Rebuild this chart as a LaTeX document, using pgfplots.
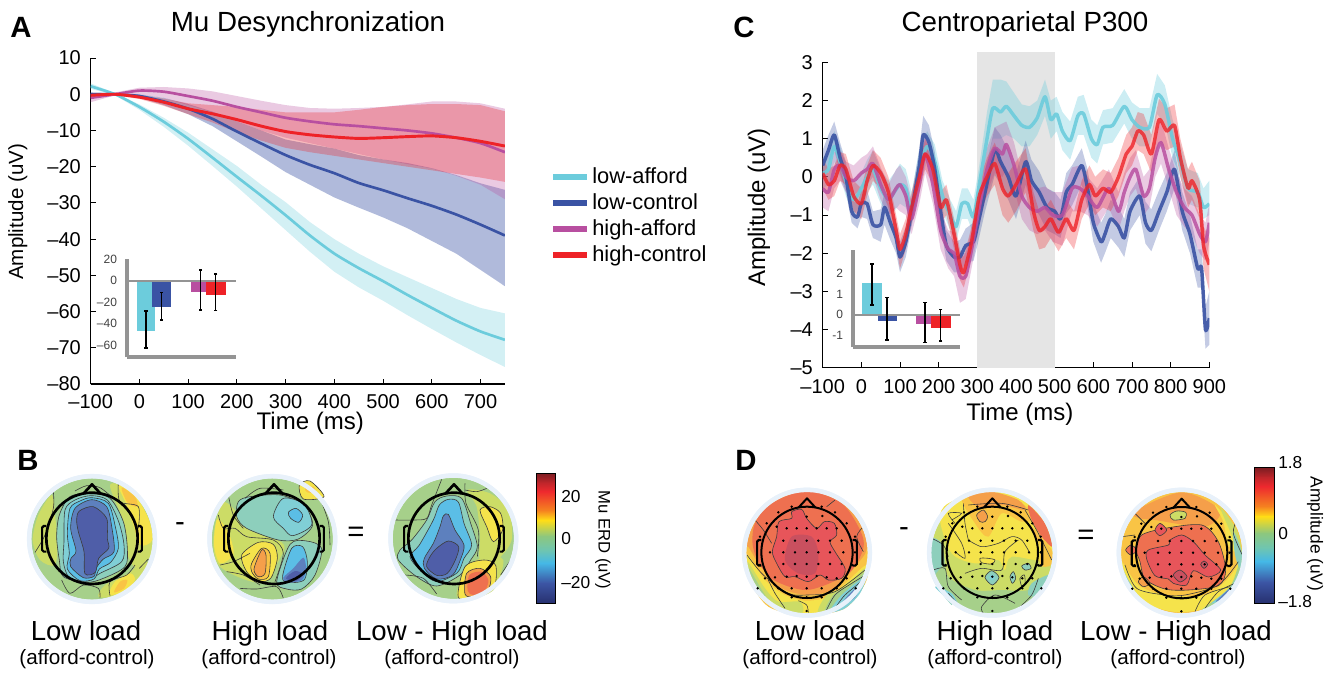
\documentclass[border=0pt]{standalone}
\usepackage{fontspec}
\setmainfont{Liberation Sans}
\usepackage{pgfplots}
\usepackage{pgfplotstable}
\pgfplotsset{compat=1.18}
\usepgfplotslibrary{fillbetween}
\definecolor{lcy}{HTML}{6CCCDC}
\definecolor{lbl}{HTML}{3A53A4}
\definecolor{lma}{HTML}{B84FA0}
\definecolor{lre}{HTML}{EE2227}
\definecolor{halo}{HTML}{E8F1FA}
\definecolor{cline}{HTML}{3C3C3C}
\definecolor{cn5}{HTML}{4F5EA8}
\definecolor{cn4}{HTML}{5D80BE}
\definecolor{cn3}{HTML}{5BBEE6}
\definecolor{cn2}{HTML}{80CFD6}
\definecolor{cn1}{HTML}{8DCFBC}
\definecolor{cz}{HTML}{A6D08A}
\definecolor{cp1}{HTML}{CCDC66}
\definecolor{cp2}{HTML}{F5E34B}
\definecolor{cp3}{HTML}{F9C445}
\definecolor{cp4}{HTML}{F59F4A}
\definecolor{cp5}{HTML}{EE7050}
\definecolor{cp6}{HTML}{E7555A}
\definecolor{cp7}{HTML}{C9505F}
\newcommand\fs[1]{\fontsize{#1}{#1}\selectfont}
% ---- panel A data
\pgfplotstableread{
t m lo hi
-100 2.2 1.5 3.0
-50 0 -.3 .3
0 -3.5 -4.3 -2.8
50 -7.6 -9 -6.5
100 -12.3 -14.2 -10.6
150 -17.5 -19.8 -15.2
200 -22.8 -25.5 -19.8
250 -28 -31.5 -25
300 -33.4 -37.5 -29.8
350 -39 -43.5 -35.3
400 -44 -49 -40
450 -48 -53.3 -44
500 -51.6 -57 -47.5
550 -55.4 -61 -50.5
600 -59 -64.8 -53.5
650 -62.5 -68.5 -56.5
700 -65.5 -72 -59
750 -67.8 -75.3 -60.5
}\Acy
\pgfplotstableread{
t m lo hi
-100 0 -.5 .5
-50 0 -.3 .3
0 -.5 -1 0
50 -2 -3 -1
100 -4 -5.5 -2.7
150 -6.8 -8.8 -4.8
200 -10.3 -13 -7.5
250 -13.6 -17.2 -10
300 -16.8 -21.5 -12.5
350 -19.5 -25 -13.8
400 -21.8 -28.5 -15
450 -24.5 -31.3 -16.8
500 -26.5 -34 -18
550 -28.7 -37 -19
600 -30.8 -40.5 -20.4
650 -33.2 -44 -22.3
700 -36 -48.5 -24.6
750 -39 -53 -26.4
}\Abl
\pgfplotstableread{
t m lo hi
-100 -1 -2.2 0
-50 0 -.3 .5
0 1 0 1.8
50 .7 -1 2
100 -.5 -3 1.6
150 -1.8 -5 .8
200 -3.5 -7.5 -.5
250 -5 -10 -1.8
300 -6.5 -12 -3
350 -7.5 -13.5 -3.8
400 -8.3 -15 -4
450 -8.8 -16.5 -3.8
500 -9.4 -18 -3.5
550 -10 -19.3 -2.8
600 -10.8 -20.5 -2
650 -12 -22.5 -2
700 -13.5 -25 -2.5
750 -16 -29 -4
}\Ama
\pgfplotstableread{
t m lo hi
-100 -.3 -1 .3
-50 0 -.3 .3
0 -.8 -1.3 -.3
50 -2.2 -3.2 -1.2
100 -4 -5.5 -2.5
150 -5.4 -7.8 -3
200 -7 -10.5 -3.5
250 -8.8 -12.8 -4.3
300 -10.3 -14.8 -5
350 -11.2 -16 -5
400 -11.8 -17 -5
450 -12.2 -18 -4.3
500 -12 -19 -3.5
550 -11.7 -20 -3
600 -11.5 -21 -2.7
650 -12 -22 -2.7
700 -13 -23 -3
750 -14.3 -24.2 -4.7
}\Are
% ---- panel C data
\pgfplotstableread{
t m lo hi
-100 .1 -.3 .5
-85 .2 -.2 .6
-70 .8 .4 1.2
-55 .4 0 .8
-40 -.1 -.5 .3
-20 -.6 -1 -.2
0 -.3 -.7 .1
15 0 -.4 .45
30 .2 -.2 .7
50 -.3 -.7 .2
70 -.6 -1 -.1
85 -.4 -.9 .1
100 -.2 -.7 .35
115 -.3 -.8 .2
130 -.9 -1.3 -.4
150 .2 -.2 .7
170 .8 .4 1.2
190 .4 0 .85
210 -.5 -.9 -.1
230 -1 -1.4 -.6
245 -1.3 -1.7 -.9
260 -.7 -1.1 -.3
275 -.7 -1.1 -.3
290 -1.05 -1.5 -.6
305 -.2 -.7 .3
325 1.0 .4 1.7
340 1.8 1 2.55
360 1.7 1 2.55
375 1.85 1.1 2.5
395 1.6 1 2.2
415 1.35 .8 1.9
435 1.3 .8 1.85
455 1.55 1.1 2
475 2.1 1.6 2.55
490 1.5 1 2
505 1.65 1.2 2.1
520 1.2 .7 1.7
540 .95 .45 1.45
560 1.6 1.1 2.1
575 1.65 1.1 2.15
595 1 .5 1.5
610 .85 .35 1.35
625 1.3 .85 1.75
650 1.35 .9 1.8
680 1.85 1.4 2.3
700 1.5 1 1.95
720 1.3 .8 1.8
745 1.3 .8 1.8
765 2.15 1.65 2.7
785 1.9 1.4 2.4
805 1 .5 1.5
825 .4 0 .85
845 -.3 -.7 .2
870 -.4 -.8 .1
885 -.8 -1.1 -.3
900 -.7 -1 -.1
}\Ccy
\pgfplotstableread{
t m lo hi
-100 .3 -.1 .7
-85 .7 .3 1.1
-70 1.1 .7 1.45
-55 .5 .1 .9
-40 0 -.4 .4
-25 -.9 -1.2 -.6
-10 -1.05 -1.35 -.7
0 -.7 -1.05 -.35
15 -.7 -1.1 -.35
30 -1.25 -1.6 -.9
50 -1.25 -1.7 -.85
60 -.8 -1.25 -.4
75 -1.2 -1.65 -.8
90 -1.6 -2 -1.2
100 -2.1 -2.5 -1.7
115 -1.7 -2.1 -1.3
130 -.9 -1.3 -.5
150 .3 -.1 .75
160 1.1 .6 1.6
175 .9 .45 1.35
190 .2 -.25 .65
205 -.9 -1.3 -.5
220 -1.8 -2.2 -1.4
240 -2.1 -2.5 -1.7
255 -2.1 -2.5 -1.65
270 -1.8 -2.25 -1.35
290 -1.7 -2.2 -1.2
300 -1.3 -1.8 -.8
320 -.4 -.9 .15
345 .7 .05 1.3
360 .4 -.2 1.1
380 0 -.6 .7
400 -.5 -1.1 .1
425 .4 -.2 .95
440 -.1 -.7 .45
460 -.4 -1 .15
480 -.8 -1.4 -.3
500 -.9 -1.5 -.4
515 -1.1 -1.6 -.6
530 -.4 -.95 .1
545 -.2 -.75 .3
570 .3 -.2 .75
585 -.3 -.8 .2
600 -1.2 -1.7 -.7
620 -1.7 -2.25 -1.2
630 -1.5 -2 -1
645 -1.1 -1.6 -.6
665 -1.3 -1.85 -.8
680 -1.6 -2.1 -1.1
695 -.9 -1.4 -.4
720 -.5 -1 0
735 -1.2 -1.75 -.65
750 -1.4 -1.95 -.85
770 -.9 -1.4 -.35
790 -.4 -.9 .1
810 .2 -.3 .7
830 -.9 -1.4 -.4
850 -1.5 -2 -1
870 -2.4 -2.9 -1.9
880 -2.4 -2.9 -1.9
890 -4 -4.5 -3.4
900 -3.7 -4.4 -3
}\Cbl
\pgfplotstableread{
t m lo hi
-100 -.3 -.8 .2
-85 -.4 -.9 .1
-70 .2 -.3 .65
-55 .3 -.1 .7
-40 0 -.4 .4
-20 -.1 -.5 .3
0 .1 -.3 .5
15 .2 -.2 .6
30 .35 0 .8
50 -.2 -.6 .25
70 -.6 -1 -.2
90 -.3 -.8 .2
100 -.2 -.9 .3
115 -.5 -1 0
130 -1.1 -1.5 -.6
150 -.2 -.7 .3
165 .6 .1 1.1
185 -.2 -.7 .3
205 -1.4 -1.9 -.9
225 -1.9 -2.4 -1.4
240 -2 -2.6 -1.45
255 -2.6 -3.3 -2
270 -2.6 -3.2 -2
285 -1.9 -2.4 -1.4
305 -.8 -1.3 -.3
325 .2 -.4 .75
345 .75 .1 1.3
365 .6 0 1.4
375 .85 .2 1.45
395 .3 -.3 .9
415 -.5 -1.1 .05
435 -.8 -1.4 -.2
455 -.9 -1.5 -.3
475 -.8 -1.4 -.25
495 -1 -1.7 -.4
520 -1 -1.8 -.4
545 -.3 -.9 .25
565 -.3 -.9 .3
585 -.5 -1 0
610 -.8 -1.3 -.3
640 -.3 -.8 .2
665 -.9 -1.4 -.4
680 -.4 -.9 .1
695 0 -.5 .5
710 .2 -.3 .7
730 -.5 -1 0
745 -.3 -.8 .2
760 .5 0 1
775 .9 .35 1.5
795 .2 -.3 .75
815 -.4 -1 .1
835 -.8 -1.3 -.3
855 -1 -1.5 -.5
875 -1.5 -2 -1
890 -1.7 -2.2 -1.2
900 -1.2 -1.7 -.7
}\Cma
\pgfplotstableread{
t m lo hi
-100 .1 -.3 .5
-85 -.2 -.6 .2
-70 -.1 -.5 .3
-55 .3 -.1 .65
-40 .2 -.2 .6
-20 -.5 -.9 -.1
0 -.7 -1.1 -.3
15 -.1 -.5 .3
30 .3 -.1 .7
50 .1 -.3 .5
70 -.4 -.8 0
90 -1.4 -1.8 -1
100 -1.9 -2.4 -1.5
115 -1.5 -1.9 -1.1
130 -.8 -1.2 -.4
150 0 -.4 .4
165 .6 .2 1
185 .2 -.2 .6
205 -.8 -1.2 -.4
220 -.6 -1 -.2
240 -1.5 -1.9 -1.1
255 -2.3 -2.7 -1.9
265 -2.5 -2.9 -2.1
285 -1.7 -2.1 -1.3
305 -.5 -1 -.1
325 0 -.5 .5
345 .35 -.2 .9
365 -.3 -1 .3
380 -.5 -1.2 .1
400 -.2 -.9 .4
425 .2 -.4 .75
445 -.9 -1.4 -.4
460 -1.4 -1.9 -.9
475 -1.3 -1.85 -.8
490 -1.1 -1.6 -.6
510 -1.45 -1.95 -1
530 -1.1 -1.6 -.6
550 -1.4 -1.9 -.9
570 -.6 -1.1 -.1
590 -.2 -.7 .3
605 -.5 -1 0
625 -.3 -.8 .2
645 -.4 -.9 .1
665 0 -.5 .5
685 .6 .1 1.1
700 .8 .3 1.3
715 1.2 .7 1.7
730 1.1 .6 1.65
750 .6 .1 1.1
770 1.5 .9 2.05
790 1.2 .7 1.8
810 1.35 .8 1.9
825 .5 0 1
845 -.3 -.8 .2
855 -.1 -.6 .4
875 -.6 -1.1 -.1
885 -1.8 -2.4 -1.3
900 -2.3 -3 -1.6
}\Cre
% ---- electrode positions
\pgfplotstableread{
x y
170 80
260 80
130 97
300 97
215 110
262 108
95 130
125 140
335 130
155 145
185 145
215 145
245 145
275 145
305 145
75 170
360 170
145 182
180 182
215 182
250 182
285 182
320 182
105 217
145 217
180 217
215 217
250 217
285 217
325 217
360 217
145 252
180 252
215 252
250 252
285 252
320 252
75 255
352 255
120 292
155 290
185 288
215 290
245 288
275 292
305 295
90 295
335 295
130 325
170 325
215 325
260 325
305 325
68 325
362 325
170 352
215 352
260 352
215 393
}\elec
% ---- macros
\newcommand\Bl[2]{\addplot[fill=#1,draw=none,smooth cycle,forget plot] coordinates {#2};}
\newcommand\BC[2]{\addplot[fill=#1,draw=cline,line width=.45pt,smooth cycle,forget plot] coordinates {#2};}
\newcommand\Cn[1]{\addplot[draw=cline,line width=.45pt,smooth,forget plot] coordinates {#1};}
\newcommand\hdisc[3]{\fill[halo] (axis cs:#1,#2) circle (48.75pt);\fill[#3] (axis cs:#1,#2) circle (45.5pt);}
\newcommand\hring[2]{\draw[halo,line width=3.4pt] (axis cs:#1,#2) circle (47.1pt);}
\newcommand\hhead[3]{%
 \draw[black,line width=#3] (axis cs:#1,#2) circle (34.25pt);
 \draw[black,line width=#3,line join=round] (axis cs:#1,#2) ++(-6.25pt,33.7pt) -- ++(6.25pt,6.8pt) -- ++(6.25pt,-6.8pt);
 \draw[black,line width=1.6pt,rounded corners=1.2pt] (axis cs:#1,#2) ++(-34.2pt,9.25pt) -- ++(-3.2pt,0) -- ++(0,-19.25pt) -- ++(3.2pt,0);
 \draw[black,line width=1.6pt,rounded corners=1.2pt] (axis cs:#1,#2) ++(34.2pt,9.25pt) -- ++(3.2pt,0) -- ++(0,-19.25pt) -- ++(-3.2pt,0);
}
\newcommand\cbar[4]{%
 \foreach \fa/\fb/\ca/\cb in {1/.85/7D1D22/C2262B,.85/.72/C2262B/EE2A2E,.72/.43/EE2A2E/F58220,.43/.28/F58220/FFDD17,.28/.03/FFDD17/8CC77F,.03/-.18/8CC77F/6FC5B0,-.18/-.38/6FC5B0/45B8E6,-.38/-.69/45B8E6/3C55A4,-.69/-1/3C55A4/27306F}{%
  \definecolor{ctop}{HTML}{\ca}\definecolor{cbot}{HTML}{\cb}
  \shade[top color=ctop,bottom color=cbot] (#1,{#3-#4*\fa}) rectangle (#2,{#3-#4*\fb});
 }
 \draw[black,line width=.9pt] (#1,{#3-#4}) rectangle (#2,{#3+#4});
}
\pgfplotsset{
 mainax/.style={scale only axis,anchor=south west,axis lines=left,axis line style={-,line width=.8pt,black},
  tick style={black,line width=.7pt},tick align=inside,major tick length=4pt,
  tick label style={font=\fs{15},inner sep=1pt},yticklabel style={xshift=-6.2pt}},
 zoomax/.style={scale only axis,anchor=north west,hide axis,clip=false,y dir=reverse,ymin=0,xmin=0},
 inset/.style={scale only axis,anchor=south west,axis lines=left,axis line style={-,line width=2.4pt,color=black!42},
  xtick=\empty,major tick length=0pt,clip=false,tick label style={font=\fs{9},text=black!75},yticklabel style={xshift=-4pt}},
 meanl/.style={line width=#1,smooth,tension=.4,forget plot,line join=round,no markers},
 band/.style={draw=none,fill=#1,fill opacity=.3,forget plot},
 bare/.style={draw=none,forget plot,no markers},
 errb/.style={black,line width=1pt,mark=-,mark size=1.2pt,sharp plot,forget plot},
}
\begin{document}
\begin{tikzpicture}
% ---------- Panel C grey window comes first, so that it lies under every band
\begin{axis}[scale only axis,anchor=south west,hide axis,clip=false,at={(617pt,-275.8pt)},width=290pt,height=229pt,
 xmin=-100,xmax=900,ymin=-5,ymax=3]
 \addplot[bare,name path=g1] coordinates {(300,-5)(500,-5)};
 \addplot[bare,name path=g2] coordinates {(300,3.27)(500,3.27)};
 \addplot[fill=black!10,draw=none,forget plot] fill between[of=g1 and g2];
\end{axis}
% ---------- Panel A
\begin{axis}[mainax,at={(68pt,-288pt)},width=310.7pt,height=244.5pt,
 xmin=-100,xmax=750,ymin=-80,ymax=10,xticklabel style={yshift=-7pt},
 xtick={-100,0,100,200,300,400,500,600,700},xticklabels={–100,0,100,200,300,400,500,600,700},
 ytick={-80,-70,-60,-50,-40,-30,-20,-10,0,10},yticklabels={–80,–70,–60,–50,–40,–30,–20,–10,0,10},
 xlabel={Time (ms)},ylabel={Amplitude (uV)},
 xlabel style={font=\fs{18},at={(axis description cs:.53,-.072)},anchor=north},
 ylabel style={font=\fs{15.4},at={(axis description cs:-.176,.528)},anchor=center}]
 \addplot[bare,name path=a1] table[x=t,y=lo]{\Acy};
 \addplot[bare,name path=a2] table[x=t,y=hi]{\Acy};
 \addplot[band=lcy] fill between[of=a1 and a2];
 \addplot[bare,name path=b1] table[x=t,y=lo]{\Abl};
 \addplot[bare,name path=b2] table[x=t,y=hi]{\Abl};
 \addplot[band=lbl,fill opacity=.4] fill between[of=b1 and b2];
 \addplot[bare,name path=c1] table[x=t,y=lo]{\Ama};
 \addplot[bare,name path=c2] table[x=t,y=hi]{\Ama};
 \addplot[band=lma] fill between[of=c1 and c2];
 \addplot[bare,name path=d1] table[x=t,y=lo]{\Are};
 \addplot[bare,name path=d2] table[x=t,y=hi]{\Are};
 \addplot[band=lre] fill between[of=d1 and d2];
 \addplot[meanl=2pt,color=lcy] table[x=t,y=m]{\Acy};
 \addplot[meanl=2pt,color=lbl] table[x=t,y=m]{\Abl};
 \addplot[meanl=2pt,color=lma] table[x=t,y=m]{\Ama};
 \addplot[meanl=2.2pt,color=lre] table[x=t,y=m]{\Are};
\end{axis}
% inset A
\begin{axis}[inset,at={(95.25pt,-267.75pt)},width=81.75pt,height=73.5pt,xmin=127,xmax=236,ymin=-71.3,ymax=20.3,
 ytick={-60,-40,-20,0,20},yticklabels={–60,–40,–20,0,20}]
 \addplot[fill=lcy,draw=none,forget plot] coordinates {(137.3,0)(137.3,-47)(155.3,-47)(155.3,0)} -- cycle;
 \addplot[fill=lbl,draw=none,forget plot] coordinates {(152.3,0)(152.3,-25)(171,-25)(171,0)} -- cycle;
 \addplot[fill=lma,draw=none,forget plot] coordinates {(191,0)(191,-10.3)(205.7,-10.3)(205.7,0)} -- cycle;
 \addplot[fill=lre,draw=none,forget plot] coordinates {(205.7,0)(205.7,-13.5)(225.7,-13.5)(225.7,0)} -- cycle;
 \addplot[black!42,line width=1.4pt,no markers,sharp plot,forget plot] coordinates {(129,0)(236,0)};
 \addplot[errb] coordinates {(146,-28.3)(146,-63)};
 \addplot[errb] coordinates {(161.3,-10.9)(161.3,-36.7)};
 \addplot[errb] coordinates {(200.3,10)(200.3,-27.4)};
 \addplot[errb] coordinates {(215.7,6.3)(215.7,-28)};
\end{axis}
% ---------- Panel C
\begin{axis}[mainax,at={(617pt,-275.8pt)},width=290pt,height=229pt,
 xmin=-100,xmax=900,ymin=-5,ymax=3,xticklabel style={yshift=-7.6pt},
 xtick={-100,0,100,200,300,400,500,600,700,800,900},xticklabels={–100,0,100,200,300,400,500,600,700,800,900},
 ytick={-5,-4,-3,-2,-1,0,1,2,3},yticklabels={–5,–4,–3,–2,–1,0,1,2,3},
 xlabel={Time (ms)},ylabel={Amplitude (uV)},
 xlabel style={font=\fs{18},at={(axis description cs:.51,-.1)},anchor=north},
 ylabel style={font=\fs{18},at={(axis description cs:-.165,.525)},anchor=center}]
 \addplot[bare,name path=a1] table[x=t,y=lo]{\Ccy};
 \addplot[bare,name path=a2] table[x=t,y=hi]{\Ccy};
 \addplot[band=lcy,fill opacity=.35] fill between[of=a1 and a2];
 \addplot[bare,name path=b1] table[x=t,y=lo]{\Cbl};
 \addplot[bare,name path=b2] table[x=t,y=hi]{\Cbl};
 \addplot[band=lbl] fill between[of=b1 and b2];
 \addplot[bare,name path=c1] table[x=t,y=lo]{\Cma};
 \addplot[bare,name path=c2] table[x=t,y=hi]{\Cma};
 \addplot[band=lma] fill between[of=c1 and c2];
 \addplot[bare,name path=d1] table[x=t,y=lo]{\Cre};
 \addplot[bare,name path=d2] table[x=t,y=hi]{\Cre};
 \addplot[band=lre] fill between[of=d1 and d2];
 \addplot[meanl=2.6pt,color=lcy,opacity=.9] table[x=t,y=m]{\Ccy};
 \addplot[meanl=2.6pt,color=lbl,opacity=.9] table[x=t,y=m]{\Cbl};
 \addplot[meanl=2.6pt,color=lma,opacity=.85] table[x=t,y=m]{\Cma};
 \addplot[meanl=2.6pt,color=lre,opacity=.8] table[x=t,y=m]{\Cre};
\end{axis}
% inset C
\begin{axis}[inset,at={(639.75pt,-260.25pt)},width=80.25pt,height=72.75pt,xmin=853,xmax=960,ymin=-1.56,ymax=3.13,
 ytick={-1,0,1,2},yticklabels={-1,0,1,2}]
 \addplot[fill=lcy,draw=none,forget plot] coordinates {(862.3,0)(862.3,1.55)(881.7,1.55)(881.7,0)} -- cycle;
 \addplot[fill=lbl,draw=none,forget plot] coordinates {(877.7,0)(877.7,-.29)(896.7,-.29)(896.7,0)} -- cycle;
 \addplot[fill=lma,draw=none,forget plot] coordinates {(916,0)(916,-.45)(931.7,-.45)(931.7,0)} -- cycle;
 \addplot[fill=lre,draw=none,forget plot] coordinates {(930.7,0)(930.7,-.64)(950.7,-.64)(950.7,0)} -- cycle;
 \addplot[black!42,line width=1.4pt,no markers,sharp plot,forget plot] coordinates {(855,0)(960,0)};
 \addplot[errb] coordinates {(872,2.45)(872,.47)};
 \addplot[errb] coordinates {(887,.84)(887,-1.22)};
 \addplot[errb] coordinates {(925,.6)(925,-1.35)};
 \addplot[errb] coordinates {(940.7,.26)(940.7,-1.27)};
\end{axis}
% ---------- Topomaps B1, B2
\begin{axis}[zoomax,at={(15pt,-348.75pt)},width=240pt,height=108.75pt,xmax=960,ymax=435]
 \hdisc{216}{222}{cz}
 \Bl{cp1}{(95,90)(55,150)(38,225)(60,285)(105,300)(112,230)(105,150)}
 \Bl{cp1}{(270,60)(330,75)(390,170)(398,260)(350,310)(320,260)(310,170)}
 \Bl{cp2}{(295,60)(345,90)(385,160)(397,225)(362,240)(340,180)(320,120)}
 \Bl{cp3}{(305,68)(345,95)(352,125)(322,112)}
 \Bl{cp1}{(235,395)(255,360)(320,330)(365,290)(385,300)(340,370)(280,395)}
 \Bl{cp2}{(268,390)(285,350)(330,325)(345,345)(315,378)}
 \Bl{cp3}{(282,382)(300,350)(322,345)(312,370)}
 \BC{cn1}{(118,150)(150,95)(210,86)(270,100)(310,170)(322,250)(315,305)(250,340)(200,352)(130,335)(118,285)(110,215)}
 \BC{cn2}{(135,135)(165,105)(212,92)(262,105)(296,170)(312,240)(305,290)(240,325)(200,348)(148,338)(130,290)(132,230)}
 \BC{cn3}{(150,130)(180,108)(215,98)(265,115)(287,190)(295,250)(272,292)(238,312)(222,342)(180,347)(142,312)(148,265)(142,205)}
 \BC{cn4}{(165,130)(215,104)(260,125)(276,190)(282,260)(250,282)(228,310)(222,334)(190,338)(152,305)(153,280)(168,258)(152,190)}
 \BC{cn5}{(178,138)(220,125)(260,160)(262,220)(266,250)(236,280)(226,322)(195,326)(192,260)(175,200)(170,165)}
 \Cn{(100,80)(100,130)(75,210)(45,262)}
 \Cn{(165,78)(200,62)(240,68)(280,100)}
 \Cn{(295,55)(300,110)(355,125)(355,190)}
 \Cn{(125,345)(150,385)(190,360)(235,370)(240,398)}
 \Cn{(358,310)(385,282)}
 \Cn{(270,392)(270,350)(320,330)(345,300)}
 \hring{216}{222}
 \hhead{216}{220}{2pt}
 \hdisc{757}{222}{cz}
 \Bl{cp1}{(605,115)(580,220)(600,305)(720,352)(785,270)(785,232)(680,190)(640,130)}
 \BC{cn1}{(655,110)(690,95)(780,90)(850,120)(878,180)(835,222)(775,225)(680,190)(650,155)}
 \BC{cn2}{(760,155)(790,100)(852,118)(875,180)(818,212)(790,190)}
 \BC{cn3}{(805,142)(828,130)(848,150)(836,172)(812,160)}
 \BC{cn1}{(770,350)(810,238)(860,228)(905,250)(885,330)(845,372)(800,372)}
 \BC{cn3}{(788,332)(815,250)(848,245)(862,290)(852,345)(800,352)}
 \Bl{cn4}{(790,338)(820,310)(850,278)(858,312)(845,346)(800,352)}
 \Bl{cn5}{(798,340)(825,318)(848,328)(828,348)}
 \Bl{cp2}{(590,165)(582,240)(600,295)(640,270)(632,220)(612,180)}
 \BC{cp2}{(665,270)(715,232)(760,238)(772,280)(752,340)(715,350)(680,320)}
 \BC{cp3}{(695,295)(725,250)(750,265)(745,335)(715,342)(695,320)}
 \BC{cp4}{(702,312)(725,255)(738,270)(735,325)(715,335)}
 \BC{cp2}{(838,60)(870,48)(912,95)(850,102)}
 \Bl{cp3}{(855,70)(880,65)(885,82)(862,82)}
 \Cn{(595,150)(610,190)(645,190)(680,215)(760,225)(790,265)(765,350)}
 \Cn{(625,90)(640,150)(670,190)}
 \Cn{(600,300)(640,290)(690,265)}
 \Cn{(620,320)(670,330)(720,360)}
 \Cn{(660,370)(710,372)(770,365)(790,400)}
 \Cn{(675,100)(720,70)(790,75)}
 \Cn{(900,100)(925,170)(930,240)}
 \hring{757}{222}
 \hhead{762}{220}{2pt}
\end{axis}
% ---------- Topomap B3
\begin{axis}[zoomax,at={(285pt,-345pt)},width=180pt,height=112.5pt,xmax=720,ymax=450]
 \hdisc{220}{235}{cz}
 \Bl{cp1}{(262,90)(330,100)(385,150)(395,240)(350,300)(300,300)(300,230)(290,140)}
 \Bl{cp1}{(230,408)(262,320)(320,290)(370,300)(345,385)(290,412)}
 \BC{cn1}{(200,108)(245,115)(272,190)(292,260)(272,300)(240,345)(170,378)(110,350)(55,300)(60,270)(95,240)(140,180)(165,125)}
 \BC{cn3}{(205,118)(235,126)(252,190)(275,255)(252,295)(232,338)(170,365)(122,332)(90,290)(118,255)(160,180)(178,135)}
 \BC{cn4}{(190,168)(205,163)(225,210)(252,255)(242,297)(218,345)(170,357)(133,325)(133,295)(160,250)(180,200)}
 \BC{cn5}{(170,265)(205,243)(236,260)(226,300)(202,340)(170,346)(140,320)(150,290)}
 \BC{cp2}{(300,150)(330,140)(362,160)(368,210)(340,245)(320,200)}
 \BC{cp2}{(235,412)(255,320)(312,300)(347,316)(342,382)(290,412)}
 \BC{cp4}{(255,402)(260,340)(300,325)(332,350)(322,395)(280,410)}
 \Bl{cp5}{(263,392)(268,345)(305,335)(325,360)(315,390)(280,405)}
 \Cn{(45,180)(100,180)(140,175)(155,135)(185,58)}
 \Cn{(255,70)(258,130)(295,210)(292,290)}
 \Cn{(255,90)(290,95)(320,85)}
 \Cn{(75,345)(130,355)(170,402)}
 \Cn{(362,345)(392,300)}
 \hring{220}{235}
 \hhead{222}{235}{2pt}
\end{axis}
% ---------- Topomaps D1, D2
\begin{axis}[zoomax,at={(551.25pt,-360pt)},width=240pt,height=105pt,xmax=960,ymax=420]
 \hdisc{216}{218}{cp4}
 \Bl{cp5}{(60,130)(110,70)(215,32)(320,70)(375,150)(385,205)(340,280)(215,330)(100,290)(55,205)}
 \Bl{cp3}{(36,200)(70,250)(130,320)(215,345)(300,325)(385,230)(398,200)(395,300)(330,385)(215,405)(100,380)(40,290)}
 \Bl{cp2}{(38,225)(90,300)(150,345)(215,362)(290,345)(385,260)(395,270)(340,370)(215,400)(110,370)(50,300)}
 \Bl{cp1}{(38,245)(90,325)(130,365)(195,365)(200,400)(120,375)(55,305)}
 \Bl{cp1}{(250,400)(275,345)(330,320)(390,265)(385,310)(340,370)}
 \Bl{cz}{(40,262)(90,345)(125,385)(70,330)}
 \Bl{cz}{(270,398)(295,345)(350,310)(392,275)(385,320)(335,378)}
 \Bl{cn2}{(285,395)(320,345)(390,290)(375,340)(330,385)}
 \Bl{cn4}{(315,380)(340,345)(378,312)(360,352)}
 \BC{cp6}{(170,95)(200,88)(215,115)(245,145)(268,125)(298,130)(305,165)(285,185)(300,215)(330,265)(320,295)(280,300)(255,285)(220,305)(180,290)(150,290)(125,250)(112,215)(125,170)(132,125)(170,115)}
 \Bl{cp7}{(170,170)(230,170)(250,220)(240,280)(190,280)(150,240)}
 \Cn{(60,120)(85,150)(110,190)}
 \Cn{(36,225)(85,285)(160,340)(215,345)(300,335)(390,270)}
 \Cn{(100,300)(120,340)(150,385)}
 \Cn{(190,362)(215,375)(220,398)}
 \Cn{(270,400)(300,345)(350,310)(392,285)}
 \Cn{(300,385)(330,345)(385,300)}
 \Cn{(275,80)(300,60)}
 \Cn{(385,140)(365,170)(385,215)}
 \addplot[only marks,mark=*,mark size=.7pt,black,forget plot] table[x=x,y=y]{\elec};
 \hring{216}{218}
 \hhead{216}{217}{1.5pt}
 \hdisc{771}{218}{cp1}
 \Bl{cp2}{(640,70)(770,30)(900,80)(950,200)(940,245)(830,230)(810,270)(790,240)(720,250)(650,220)(615,120)}
 \Bl{cp3}{(680,50)(770,35)(860,70)(905,115)(860,125)(800,100)(760,170)(720,130)}
 \Bl{cp4}{(700,45)(770,35)(850,60)(870,90)(800,75)(730,80)}
 \Bl{cp3}{(880,130)(950,210)(948,255)(915,255)(915,195)}
 \Bl{cp5}{(880,75)(930,130)(952,200)(920,170)(890,120)}
 \BC{cp4}{(725,105)(745,90)(758,110)(750,125)(735,125)}
 \Bl{cz}{(585,200)(625,220)(640,290)(720,330)(800,330)(880,330)(950,285)(920,340)(850,390)(770,405)(680,385)(620,330)(585,250)}
 \Bl{cn1}{(585,175)(620,190)(625,250)(600,290)(640,340)(650,375)(600,310)(580,240)}
 \Bl{cn2}{(600,320)(650,340)(670,380)(630,350)}
 \Bl{cn1}{(890,310)(945,285)(915,345)(880,345)}
 \BC{cp2}{(735,235)(760,235)(780,240)(770,252)(740,248)}
 \BC{cn1}{(750,292)(770,272)(792,292)(772,315)}
 \Bl{cn2}{(762,292)(772,283)(780,292)(772,302)}
 \BC{cn1}{(825,290)(835,275)(842,295)(832,310)}
 \BC{cp1}{(855,295)(868,285)(870,310)(860,318)}
 \BC{cn1}{(860,258)(880,250)(888,265)(870,270)}
 \Cn{(650,120)(680,100)(640,100)(660,130)}
 \Cn{(685,70)(690,130)(700,180)}
 \Cn{(700,75)(800,70)(880,90)}
 \Cn{(700,180)(740,200)(790,190)(830,170)(860,180)(885,220)}
 \Cn{(660,215)(690,235)(680,190)(640,130)}
 \Cn{(590,175)(625,195)(640,230)}
 \Cn{(595,270)(630,265)(640,320)(680,360)}
 \Cn{(640,340)(680,385)}
 \Cn{(690,280)(740,265)(800,270)(810,215)(850,180)}
 \Cn{(840,370)(780,345)(740,380)(745,400)}
 \Cn{(910,295)(890,345)(850,385)}
 \Cn{(870,90)(910,160)(950,240)}
 \addplot[only marks,mark=*,mark size=.7pt,black,forget plot] table[x expr=\thisrow{x}+557,y=y]{\elec};
 \hring{771}{218}
 \hhead{772}{217}{1.5pt}
\end{axis}
% ---------- Topomap D3
\begin{axis}[zoomax,at={(828.75pt,-341.25pt)},width=173.25pt,height=123.75pt,xmax=693,ymax=495]
 \hdisc{230}{293}{cp3}
 \Bl{cp4}{(85,170)(230,112)(345,165)(300,215)(150,195)(105,190)}
 \Bl{cp2}{(330,150)(390,220)(410,300)(370,270)(355,200)}
 \Bl{cp1}{(345,155)(395,225)(410,290)(385,250)}
 \Bl{cp2}{(50,320)(100,390)(180,420)(300,420)(370,370)(410,310)(405,350)(350,440)(230,472)(120,445)(60,380)}
 \Bl{cz}{(50,330)(75,390)(110,430)(70,385)}
 \Bl{cz}{(290,465)(375,395)(410,300)(408,350)(365,430)}
 \Bl{cn2}{(320,445)(378,395)(405,345)(370,420)}
 \Bl{cn4}{(332,440)(375,400)(362,425)}
 \Bl{cn1}{(385,230)(410,290)(405,340)(390,300)}
 \Bl{cn1}{(48,335)(70,375)(85,400)(60,375)}
 \BC{cp1}{(195,180)(215,168)(242,172)(240,190)(205,195)}
 \BC{cp5}{(180,220)(290,210)(340,260)(362,345)(340,392)(250,405)(180,402)(120,372)(105,320)(92,280)(110,240)}
 \BC{cp6}{(195,255)(230,240)(265,260)(300,300)(347,345)(310,366)(265,347)(245,390)(205,385)(190,372)(150,362)(125,312)(130,285)(190,270)}
 \BC{cp7}{(205,360)(225,345)(246,365)(225,381)}
 \BC{cp7}{(287,328)(297,318)(308,328)(297,340)}
 \BC{cp6}{(150,225)(165,205)(185,225)(165,242)}
 \BC{cp5}{(62,285)(78,270)(95,285)(78,300)}
 \BC{cp4}{(100,380)(115,365)(135,385)(115,395)}
 \Cn{(90,175)(120,205)}
 \Cn{(50,245)(90,240)}
 \Cn{(395,195)(385,235)(412,300)}
 \Cn{(60,330)(95,400)(180,420)(240,420)(340,390)(400,320)}
 \Cn{(270,470)(300,420)(375,395)}
 \Cn{(300,460)(340,410)(390,385)}
 \addplot[only marks,mark=*,mark size=.7pt,black,forget plot] table[x expr=\thisrow{x}+14,y expr=\thisrow{y}+76]{\elec};
 \hring{230}{293}
 \hhead{230}{293}{1.5pt}
\end{axis}
% ---------- text, legend and colour bars in pixel coordinates
\begin{scope}[x=.75pt,y=-.75pt]
 \cbar{536.7}{555.7}{538.3}{65}
 \cbar{1254.3}{1274.3}{535.5}{67.8}
 \foreach \yy/\cc in {177/lcy,203/lbl,229/lma,255/lre}{\draw[\cc,line width=3.8pt] (553,\yy) -- (587,\yy);}
 \node[anchor=base west,font=\fs{16.4},inner sep=0] at (592,183) {low-afford};
 \node[anchor=base west,font=\fs{16.4},inner sep=0] at (592,209) {low-control};
 \node[anchor=base west,font=\fs{16.4},inner sep=0] at (592,235) {high-afford};
 \node[anchor=base west,font=\fs{16.4},inner sep=0] at (592,261) {high-control};
 \node[anchor=base,font=\fs{20.8}] at (308,31) {Mu Desynchronization};
 \node[anchor=base,font=\fs{20.8}] at (1025,31) {Centroparietal P300};
 \node[anchor=base west,inner sep=0,font=\bfseries\fs{22}] at (10,37) {A};
 \node[anchor=base west,inner sep=0,font=\bfseries\fs{22}] at (17,470) {B};
 \node[anchor=base west,inner sep=0,font=\bfseries\fs{22}] at (733,37) {C};
 \node[anchor=base west,inner sep=0,font=\bfseries\fs{22}] at (735,470) {D};
 \foreach \xx/\tt in {86/Low load,270/High load,452/Low - High load,810/Low load,995/High load,1176/Low - High load}{
  \node[anchor=base,font=\fs{20.7},inner sep=0] at (\xx,640) {\tt};}
 \foreach \xx in {87,269,452,810,995,1178}{
  \node[anchor=base,font=\fs{15.5},inner sep=0] at (\xx,664) {(afford-control)};}
 \node[font=\fs{22}] at (180,527) {-};
 \node[font=\fs{22}] at (904,532) {-};
 \node[font=\fs{22}] at (356,534) {=};
 \node[font=\fs{22}] at (1086,537) {=};
 \node[anchor=west,inner sep=0,font=\fs{13}] at (561,497) {20};
 \node[anchor=west,inner sep=0,font=\fs{13}] at (561,539) {0};
 \node[anchor=west,inner sep=0,font=\fs{13}] at (561,583) {–20};
 \node[rotate=-90,font=\fs{12.5},inner sep=0] at (603,540) {Mu ERD (uV)};
 \node[anchor=west,inner sep=0,font=\fs{13}] at (1278,463) {1.8};
 \node[anchor=west,inner sep=0,font=\fs{13}] at (1278,534) {0};
 \node[anchor=west,inner sep=0,font=\fs{13}] at (1278,602) {–1.8};
 \node[rotate=-90,font=\fs{13},inner sep=0] at (1315,534) {Amplitude (uV)};
\end{scope}
\pgfresetboundingbox
\path (0,0) rectangle (1002pt,-504pt);
\end{tikzpicture}
\end{document}
